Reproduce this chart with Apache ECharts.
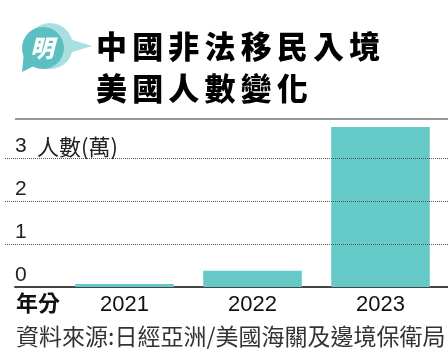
<!DOCTYPE html>
<html>
<head>
<meta charset="utf-8">
<script src="https://cdn.jsdelivr.net/npm/echarts@6/dist/echarts.min.js"></script>
<style>
html,body{margin:0;padding:0;background:#fff;}
#c{width:448px;height:354px;}
</style>
</head>
<body>
<div id="c"></div>
<script>
const years = ['2021', '2022', '2023'];
const counts = [0.07, 0.38, 3.72]; // 萬人
const yTicks = [0, 1, 2, 3];
const titleLines = ['中國非法移民入境', '美國人數變化'];
const unitLabel = '人數(萬)';
const xName = '年分';
const sourceText = '資料來源:日經亞洲/美國海關及邊境保衛局';

const CJK = '"Noto Sans CJK TC", "Noto Sans CJK SC", sans-serif';
const LAT = '"Liberation Sans", Arial, sans-serif';
const TEAL = '#64c9c7';
const spaced = (s, sp) => Array.from(s).join(sp);

const chart = echarts.init(document.getElementById('c'), null, {renderer: 'canvas'});
const yMax = yTicks[yTicks.length - 1] + 1;

chart.setOption({
  animation: false,
  grid: [
    {left: 5, right: 0, top: 115, bottom: 67},
    {left: 60.5, right: 3.5, top: 115, bottom: 67},
    {left: 15, right: 0, top: 115, bottom: 67}
  ],
  xAxis: [
    {gridIndex: 0, type: 'value', min: 0, max: 1, show: false},
    {
      gridIndex: 1, type: 'category', data: years,
      axisLine: {show: false}, axisTick: {show: false},
      axisLabel: {fontSize: 22, color: '#111', fontFamily: LAT, margin: 7}
    },
    {
      gridIndex: 2, type: 'value', min: 0, max: 1,
      axisLine: {show: true, lineStyle: {color: '#444', width: 2}},
      axisTick: {show: false}, axisLabel: {show: false}, splitLine: {show: false}
    }
  ],
  yAxis: [
    {
      gridIndex: 0, type: 'value', min: 0, max: yMax, interval: 1,
      axisLine: {show: false}, axisTick: {show: false},
      axisLabel: {
        inside: true, margin: 10, fontSize: 21, color: '#222', fontFamily: LAT,
        verticalAlign: 'bottom', align: 'left', lineHeight: 22, padding: [0, 0, 1, 0],
        showMaxLabel: false
      },
      splitLine: {show: false}
    },
    {gridIndex: 1, type: 'value', min: 0, max: yMax, interval: 1, show: false, splitLine: {show: false}},
    {gridIndex: 2, type: 'value', min: 0, max: yMax, interval: 1, show: false, splitLine: {show: false}}
  ],
  series: [
    {
      // carrier for the dotted gridlines across the full width
      type: 'line', xAxisIndex: 0, yAxisIndex: 0, data: [[0, 0], [1, 0]],
      showSymbol: false, lineStyle: {opacity: 0}, silent: true, z: 1,
      markLine: {
        silent: true, symbol: ['none', 'none'], label: {show: false},
        lineStyle: {color: '#555', width: 1, type: 'dotted'},
        data: yTicks.filter(v => v > 0).map(v => ({yAxis: v}))
      }
    },
    {
      type: 'bar', xAxisIndex: 1, yAxisIndex: 1, data: counts,
      barWidth: '77%', itemStyle: {color: TEAL}, z: 3
    }
  ],
  graphic: [
    {type: 'line', shape: {x1: 15, y1: 119, x2: 448, y2: 119}, style: {stroke: '#777', lineWidth: 1.5}, z: 51},
    // icon bubble
    {type: 'circle', shape: {cx: 50, cy: 46, r: 23}, style: {fill: '#a9dfe0'}, z: 1},
    {type: 'polygon', shape: {points: [[66, 38], [66, 54], [92, 46]]}, style: {fill: '#a9dfe0'}, z: 1},
    {type: 'circle', shape: {cx: 43, cy: 48, r: 21}, style: {fill: '#5cbfc2'}, z: 2},
    {type: 'polygon', shape: {points: [[24, 52], [34, 66], [22, 72]]}, style: {fill: '#5cbfc2'}, z: 2},
    {type: 'text', x: 42, y: 48, style: {text: '明', fill: '#fff', font: 'italic 900 24px ' + CJK, textAlign: 'center', textVerticalAlign: 'middle'}, z: 3},
    // title
    {type: 'text', x: 96, y: 46, style: {text: spaced(titleLines[0], '\u2006'), fill: '#000', font: '900 31px ' + CJK, textVerticalAlign: 'middle'}},
    {type: 'text', x: 96, y: 88, style: {text: spaced(titleLines[1], '\u2006'), fill: '#000', font: '900 31px ' + CJK, textVerticalAlign: 'middle'}},
    // unit
    {type: 'text', x: 37, y: 147, style: {text: unitLabel, fill: '#222', font: '22px ' + CJK, textVerticalAlign: 'middle'}},
    // x name
    {type: 'text', x: 16, y: 303, style: {text: xName, fill: '#111', font: 'bold 22px ' + CJK, textVerticalAlign: 'middle'}},
    // source
    {type: 'text', x: 16, y: 336, style: {text: sourceText, fill: '#333', font: '23px ' + CJK, textVerticalAlign: 'middle'}}
  ]
});
</script>
</body>
</html>
